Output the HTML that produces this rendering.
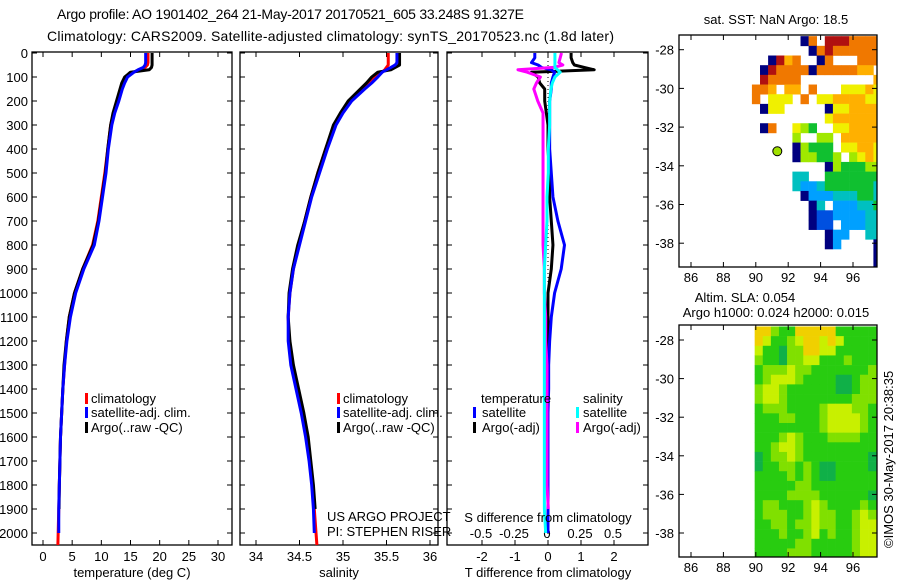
<!DOCTYPE html>
<html><head><meta charset="utf-8"><style>
html,body{margin:0;padding:0;background:#fff}
svg{display:block;font-family:"Liberation Sans",sans-serif}
</style></head><body>
<svg id="chart" width="900" height="580" viewBox="0 0 900 580" xmlns="http://www.w3.org/2000/svg">
<g font-size="14">
<text x="57" y="19" textLength="467">Argo profile: AO 1901402_264 21-May-2017 20170521_605 33.248S 91.327E</text>
<text x="47" y="41" textLength="567">Climatology: CARS2009. Satellite-adjusted climatology: synTS_20170523.nc (1.8d later)</text>
</g>
<g id="plots"></g>
</svg>
<script>
// ---- data ----
const depths=[0,20,40,50,60,70,80,100,125,150,200,250,300,400,500,600,700,800,900,1000,1100,1200,1300,1400,1500,1600,1700,1800,1900,2000,2050];
const tempClim=[18.0,18.0,18.0,17.9,17.5,16.5,15.5,14.3,13.8,13.4,12.8,12.1,11.6,11.1,10.6,10.0,9.4,8.5,6.8,5.4,4.5,4.0,3.7,3.4,3.2,3.0,2.9,2.8,2.7,2.6,2.55];
const tempSat=[17.6,17.6,17.6,17.5,17.2,16.3,15.6,14.5,14.0,13.6,13.0,12.3,11.8,11.2,10.8,10.2,9.6,8.8,7.0,5.6,4.7,4.1,3.7,3.4,3.2,3.0,2.9,2.8,2.7,2.7];
const tempArgo=[18.7,18.7,18.7,18.7,18.6,18.2,15.0,14.0,13.5,13.2,12.6,12.0,11.6,11.1,10.7,10.1,9.5,8.6,6.8,5.4,4.5,4.0,3.6,3.4,3.2,3.0,2.9,2.8,2.75];
const salClim=[35.52,35.52,35.52,35.52,35.5,35.48,35.45,35.38,35.3,35.22,35.08,34.98,34.9,34.8,34.71,34.63,34.56,34.49,34.43,34.39,34.37,34.38,34.41,34.47,34.53,34.58,34.62,34.65,34.67,34.69,34.70];
const salSat=[35.62,35.62,35.62,35.6,35.55,35.5,35.45,35.4,35.33,35.25,35.1,35.0,34.92,34.82,34.73,34.64,34.57,34.5,34.43,34.39,34.37,34.37,34.40,34.46,34.52,34.57,34.61,34.64,34.66,34.67];
const salArgo=[35.65,35.65,35.65,35.65,35.6,35.55,35.4,35.33,35.27,35.2,35.06,34.97,34.89,34.8,34.71,34.63,34.56,34.48,34.42,34.38,34.37,34.39,34.43,34.49,34.55,34.6,34.63,34.66,34.68];
const dTArgo=[0.7,0.7,0.75,0.8,1.1,1.4,-0.5,-0.3,-0.25,-0.1,-0.1,-0.05,0,0,0.05,0.05,0.1,0.15,0.1,0,0,0,0,0,0,0,0,0,0];
const dTSat=[-0.4,-0.4,-0.5,-0.3,-0.2,0.1,0.2,0.15,0.1,0.1,0.05,0.05,0.05,0.05,0.1,0.15,0.3,0.5,0.4,0.2,0.1,0.05,0.02,0.02,0,0,0,0,0,0];
const dSArgo=[0.11,0.1,0.09,0.12,0.05,-0.22,-0.15,-0.05,-0.08,-0.1,-0.07,-0.03,-0.03,-0.03,-0.03,-0.03,-0.03,-0.03,-0.02,-0.02,-0.01,-0.01,0,0,0,0,0,0,0.01];
const dSSat=[0.06,0.06,0.06,0.06,0.06,0.08,0.1,0.06,0.04,0.03,0.02,0.02,0.02,0.01,0.01,0,0,-0.01,-0.02,-0.02,-0.02,-0.02,-0.02,-0.02,-0.02,-0.02,-0.02,-0.02,-0.02,-0.01];
const depthTicks=[0,100,200,300,400,500,600,700,800,900,1000,1100,1200,1300,1400,1500,1600,1700,1800,1900,2000];
const tempTicks=[0,5,10,15,20,25,30];
const salTicks=[34,34.5,35,35.5,36];
const dTTicks=[-2,-1,0,1,2];
const dSTicks=[-0.5,-0.25,0,0.25,0.5];
const latTicks=[-28,-30,-32,-34,-36,-38];
const lonTicks=[86,88,90,92,94,96];
// SST grid: 0.5deg cells from lon 85.26, lat -27.3 ; '.' missing ; 0..9 jet levels
const sstRows=[
"...............08.999888888",
"................08988888887",
"...........0978..08...8887",
"..........09888808888877.7",
"..........98888.........7",
".........887.77.8...666766",
".........8.666.8.66777766",
"..........066.....0667777",
"..................6777777",
"..........08..654..667777",
"..............5..55.77777",
"..............05444.66776",
"..............055445.5676",
"..................0544455",
"..............33..4444444",
"..............32234444443",
"...............0222333443",
"................03.222334",
"................011222233",
"................011.22233",
"..................022..33",
"..................02....0",
"........................0",
"........................0"];
const slaRows=[
"442114444411111","431123443431111","311022443311111","211022331112111",
"122232211111112","123332111100122","233211111100122","233211111111222",
"122211112333221","111221112333321","111111112333321","111232111222211",
"112332111111111","012232111111110","011221210011110","111121210011111",
"111112211111111","111122221111110","122111232111121","122211232211232",
"112212232211233","111211231211233","111112211111233","111122211111233"];
const sstColors=["#00007f","#0050e0","#00a0ff","#00c0c0","#10c030","#a0e800","#f0f000","#ffb000","#f07800","#b01010"];
const slaColors=["#10b048","#28cc10","#80e000","#c8f000","#f0d000"];

const NS="http://www.w3.org/2000/svg";
const root=document.getElementById('plots');
function mk(tag,attrs,parent,text){const e=document.createElementNS(NS,tag);for(const k in attrs)e.setAttribute(k,attrs[k]);if(text!==undefined)e.textContent=text;(parent||root).appendChild(e);return e;}

const yTop=53, pxPer100=24, yBot=545;
const yDepth=d=>yTop+d*pxPer100/100;
const xTemp=v=>43+v*(175/30);
const xSal=v=>256+(v-34)*87;
const xDT=v=>548+v*33;
const xDS=v=>547+v*132;

function frame(x0,x1,y0,y1,name){
  const r=mk('rect',{x:x0,y:y0,width:x1-x0,height:y1-y0,fill:'none',stroke:'#000','stroke-width':1.3});
  
  
}
function profLine(xs,ds,fx,color,name,w){
  let pts=[];
  for(let i=0;i<xs.length;i++){pts.push(fx(xs[i])+','+yDepth(ds[i]));}
  const p=mk('polyline',{points:pts.join(' '),fill:'none',stroke:color,'stroke-width':w||3,'stroke-linejoin':'round'});
  
  
}
function depthTicksFn(x0,x1,labels){
  depthTicks.forEach(d=>{
    const y=yDepth(d);
    mk('line',{x1:x0,y1:y,x2:x0+5,y2:y,stroke:'#000'});
    mk('line',{x1:x1,y1:y,x2:x1-5,y2:y,stroke:'#000'});
    if(labels){const t=mk('text',{x:x0-4,y:y+5,'font-size':13,'text-anchor':'end'},root,String(d));
      
      }
  });
}
function xTicks(ticks,fx,y0,y1,labelY){
  ticks.forEach(v=>{
    const x=fx(v);
    mk('line',{x1:x,y1:y1,x2:x,y2:y1-5,stroke:'#000'});
    mk('line',{x1:x,y1:y0,x2:x,y2:y0+5,stroke:'#000'});
    const t=mk('text',{x:x,y:labelY,'font-size':13,'text-anchor':'middle'},root,String(v));
    
    
  });
}
function txt(x,y,s,name,opts){const o=Object.assign({x:x,y:y,'font-size':13},opts||{});const t=mk('text',o,root,s);
  
  return t;}
function legendMark(x,y,color){const r=mk('rect',{x:x,y:y-10,width:3,height:11,fill:color});
  
  }

// panel 1
frame(32,232,yTop-1,yBot,'temperature-plot-frame');
depthTicksFn(32,232,true);
xTicks(tempTicks,xTemp,yTop-1,yBot,561);
profLine(tempClim,depths,xTemp,'#f00','temp-climatology-line');
profLine(tempArgo,depths,xTemp,'#000','temp-argo-line');
profLine(tempSat,depths,xTemp,'#00f','temp-satellite-line');
txt(132,577,'temperature (deg C)','temperature-x-axis-title',{'text-anchor':'middle'});
legendMark(85,403,'#f00');txt(91,403,'climatology','legend-climatology');
legendMark(85,417,'#00f');txt(91,417,'satellite-adj. clim.','legend-satellite');
legendMark(85,432,'#000');txt(91,432,'Argo(..raw -QC)','legend-argo');

// panel 2
frame(240,438,yTop-1,yBot,'salinity-plot-frame');
depthTicksFn(240,438,false);
xTicks(salTicks,xSal,yTop-1,yBot,561);
profLine(salClim,depths,xSal,'#f00','sal-climatology-line');
profLine(salArgo,depths,xSal,'#000','sal-argo-line');
profLine(salSat,depths,xSal,'#00f','sal-satellite-line');
txt(339,577,'salinity','salinity-x-axis-title',{'text-anchor':'middle'});
legendMark(337,403,'#f00');txt(343,403,'climatology','legend-climatology-2');
legendMark(337,417,'#00f');txt(343,417,'satellite-adj. clim.','legend-satellite-2');
legendMark(337,432,'#000');txt(343,432,'Argo(..raw -QC)','legend-argo-2');
txt(327,521,'US ARGO PROJECT','project-note');
txt(327,536,'PI: STEPHEN RISER','pi-note');

// panel 3
frame(447,648,yTop-1,yBot,'difference-plot-frame');
depthTicksFn(447,648,false);
xTicks(dTTicks,xDT,yTop-1,yBot,561);
dSTicks.forEach(v=>txt(xDS(v),538,String(v),'s-diff-tick-label',{'text-anchor':'middle'}));
mk('line',{x1:548,y1:yTop,x2:548,y2:yBot,stroke:'#000','stroke-dasharray':'1,3'});
profLine(dTArgo,depths,xDT,'#000','t-diff-argo-line');
profLine(dTSat,depths,xDT,'#00f','t-diff-satellite-line');
profLine(dSArgo,depths,xDS,'#f0f','s-diff-argo-line');
profLine(dSSat,depths,xDS,'#0ff','s-diff-satellite-line');
txt(548,522,'S difference from climatology','s-diff-axis-title',{'text-anchor':'middle'});
txt(548,577,'T difference from climatology','t-diff-axis-title',{'text-anchor':'middle'});
txt(481,403,'temperature','legend-temperature-head');
txt(583,403,'salinity','legend-salinity-head');
legendMark(473,417,'#00f');txt(482,417,'satellite','legend-t-satellite');
legendMark(473,432,'#000');txt(482,432,'Argo(-adj)','legend-t-argo');
legendMark(576,417,'#0ff');txt(583,417,'satellite','legend-s-satellite');
legendMark(576,432,'#f0f');txt(583,432,'Argo(-adj)','legend-s-argo');

// maps
const lonX=lon=>691+(lon-86)*16.2;
function mapAxes(y0,y1,latY,name){
  frame(679,877,y0,y1,name);
  latTicks.forEach(l=>{const y=latY(l);mk('line',{x1:679,y1:y,x2:684,y2:y,stroke:'#000'});mk('line',{x1:877,y1:y,x2:872,y2:y,stroke:'#000'});
    txt(674,y+5,String(l),'lat-tick-label',{'text-anchor':'end'});});
  lonTicks.forEach(l=>{const x=lonX(l);mk('line',{x1:x,y1:y0,x2:x,y2:y0+5,stroke:'#000'});mk('line',{x1:x,y1:y1,x2:x,y2:y1-5,stroke:'#000'});
    txt(x,y1+15,String(l),'lon-tick-label',{'text-anchor':'middle'});});
}
const lat1=l=>49.7+(-28-l)*19.35;
const lat2=l=>340+(-28-l)*19.3;
const g1=mk('g',{});


sstRows.forEach((row,j)=>{for(let i=0;i<row.length;i++){const c=row[i];if(c<'0'||c>'9')continue;
  const lon=85.26+i*0.5, lat=-27.3-j*0.5;const x=lonX(lon), y=lat1(lat);
  const w=Math.min(lonX(lon+0.5),877)-x;if(w<=0)continue;const h=Math.min(lat1(lat-0.5),267)-y;
  const r=mk('rect',{x:x,y:y,width:w+0.3,height:h+0.3,fill:sstColors[+c]},g1);
  
  }});
mapAxes(35,267,lat1,'sst-map-frame');
const dot=mk('circle',{cx:lonX(91.327),cy:lat1(-33.248),r:4.5,fill:'#a0e000',stroke:'#000','stroke-width':1});


txt(776,24,'sat. SST: NaN Argo: 18.5','sst-map-title',{'text-anchor':'middle'});
const g2=mk('g',{});


slaRows.forEach((row,j)=>{for(let i=0;i<row.length;i++){const c=+row[i];
  const lon=89.93+i*0.5, lat=-27.3-j*0.5;const x=lonX(lon), y=Math.max(lat2(lat),325);
  const w=Math.min(lonX(lon+0.5),877)-x;const h=Math.min(lat2(lat-0.5),557)-y;if(w<=0||h<=0)continue;
  const r=mk('rect',{x:x,y:y,width:w+0.3,height:h+0.3,fill:slaColors[c]},g2);
  
  }});
mapAxes(325,557,lat2,'sla-map-frame');
txt(745,302,'Altim. SLA: 0.054','sla-map-title-1',{'text-anchor':'middle'});
txt(776,317,'Argo h1000: 0.024 h2000: 0.015','sla-map-title-2',{'text-anchor':'middle'});
txt(0,0,'©IMOS 30-May-2017 20:38:35','timestamp',{transform:'translate(893,548) rotate(-90)'});
</script>
</body></html>
